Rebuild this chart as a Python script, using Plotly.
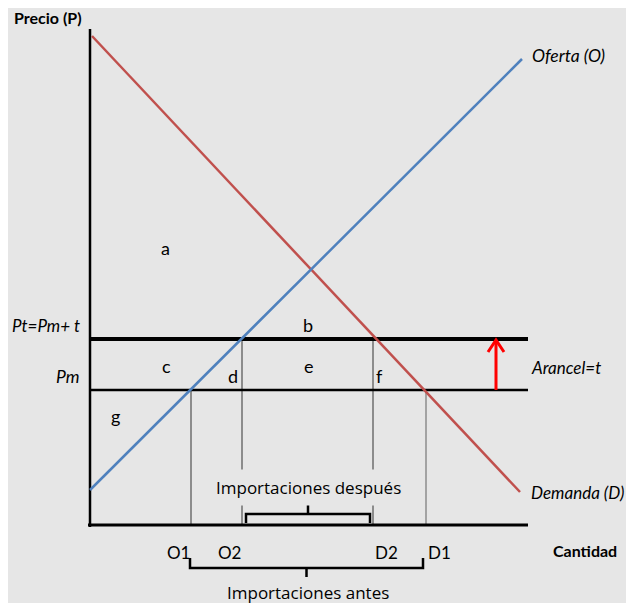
import plotly.graph_objects as go

# ---------------- data (Q = cantidad, P = precio) ----------------
demand_q = [0.2, 43.0]
demand_p = [48.9, 3.3]
supply_q = [0.0, 43.2]
supply_p = [3.5, 46.6]
Pm = 13.5
Pt = 18.6
axis_q_max = 43.8
axis_p_max = 49.6

q_labels = ["O1", "O2", "D2", "D1"]
q_values = [10.1, 15.2, 28.3, 33.6]
q_tops = [Pm, Pt, Pt, Pm]

area_labels = ["a", "b", "c", "d", "e", "f", "g"]
area_q = [7.5, 21.8, 7.6, 14.3, 21.9, 28.9, 2.5]
area_p = [27.7, 20.0, 15.9, 14.9, 15.9, 14.9, 10.9]

tariff_q = 40.6
imports_after = [15.6, 28.0]
imports_before = [10.0, 33.3]

BG = "#e6e6e6"
FONT = "Lato"
fig = go.Figure()

def line(xs, ys, color, width, dash="solid"):
    fig.add_trace(go.Scatter(x=xs, y=ys, mode="lines",
                             line=dict(color=color, width=width, dash=dash),
                             hoverinfo="skip", showlegend=False))

# vertical quantity guides
for q, top, lw in zip(q_values, q_tops, [2, 2, 2, 1.5]):
    line([q, q], [0, top], "#8c8c8c", lw)

# price lines
line([0, axis_q_max], [Pm, Pm], "black", 2.5)
line([0, axis_q_max], [Pt, Pt], "black", 4)

# axes
line([0, 0], [-0.2, axis_p_max], "black", 2.5)
line([-0.2, axis_q_max], [0, 0], "black", 3)

# demand & supply
line(demand_q, demand_p, "#c0504d", 2.5)
line(supply_q, supply_p, "#4f81bd", 2.5)

# tariff arrow
line([tariff_q, tariff_q], [Pm, Pt - 0.2], "red", 3)
line([tariff_q - 0.8, tariff_q, tariff_q + 0.8], [Pt - 1.3, Pt - 0.1, Pt - 1.3], "red", 3)

# braces
a0, a1 = imports_after
am = (a0 + a1) / 2
line([a0, a0, a1, a1], [0.2, 1.1, 1.1, 0.2], "black", 2.5)
line([am, am], [1.1, 2.2], "black", 2.5)
b0, b1 = imports_before
bm = (b0 + b1) / 2
line([b0, b0, b1, b1], [-3.3, -4.3, -4.3, -3.3], "black", 2.5)
line([bm, bm], [-4.3, -5.2], "black", 2.5)

ann = []
def text(x, y, s, size=18, xanchor="center", italic=False, bold=False, family=FONT, **kw):
    if italic:
        s = "<i>" + s + "</i>"
    if bold:
        s = "<b>" + s + "</b>"
    ann.append(dict(x=x, y=y, xref="x", yref="y", text=s, showarrow=False,
                    xanchor=xanchor, yanchor="middle",
                    font=dict(family=family, size=size, color="black"), **kw))

for lab, q, p in zip(area_labels, area_q, area_p):
    text(q, p, lab)
for lab, q in zip(q_labels, q_values):
    text(q - 1.3 if lab.startswith("O") else q + 1.3, -2.7, lab, size=17)

text(-7.8, 50.8, "Precio (P)", size=16, xanchor="left", bold=True)
text(49.5, -2.5, "Cantidad", size=16, bold=True)
text(-0.8, 20.0, "Pt=Pm+ t", size=17, xanchor="right", italic=True)
text(-0.9, 14.9, "Pm", size=17.5, xanchor="right", italic=True)
text(43.9, 15.8, "Arancel=t", size=17, xanchor="left", italic=True)
text(44.0, 47.0, "Oferta (O)", size=17.5, xanchor="left", italic=True)
text(43.9, 3.3, "Demanda (D)", size=17, xanchor="left", italic=True)
text(am, 3.8, "Importaciones después", size=17, family="Open Sans",
     bgcolor=BG, borderpad=6)
text(bm + 0.1, -6.7, "Importaciones antes", size=17, family="Open Sans")

# page is offset by the browser's 8px body margin
fig.update_layout(
    width=626, height=595,
    margin=dict(l=0, r=0, t=0, b=0),
    paper_bgcolor=BG, plot_bgcolor=BG,
    xaxis=dict(range=[-8.2, 54.4], visible=False, fixedrange=True),
    yaxis=dict(range=[-7.8, 51.7], visible=False, fixedrange=True),
    annotations=ann,
    showlegend=False,
)
fig.write_html("out.html")
